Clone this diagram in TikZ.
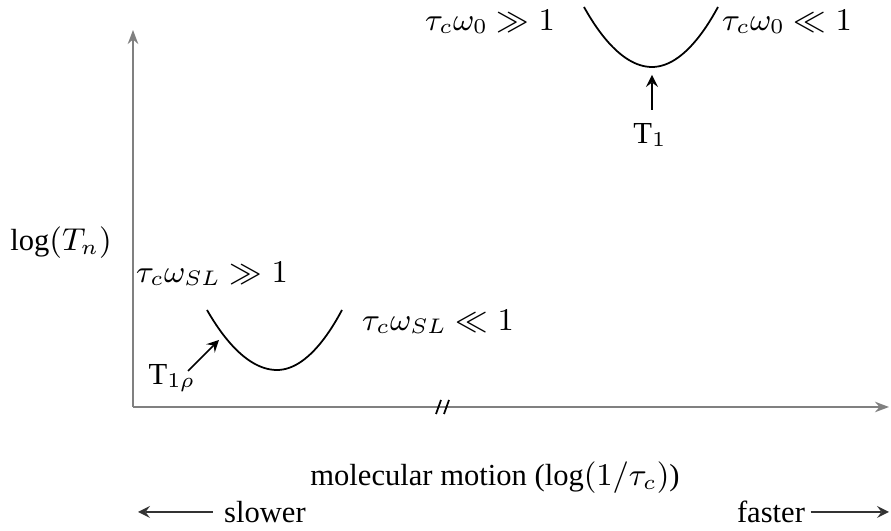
\documentclass[tikz,border=0pt]{standalone}
\usepackage{fontspec}
\setmainfont{Liberation Serif}
\usepackage{amssymb}
\usepackage{xcolor}
\usetikzlibrary{positioning, arrows.meta, calc}

\begin{document}
\begin{tikzpicture}[
    >=stealth,
    axisline/.style={draw=gray, line width=0.5pt, -{Stealth[length=4pt, width=3pt]}},
    curveline/.style={draw=black, line width=0.5pt},
    pointer/.style={->, line width=0.5pt},
    dirarrow/.style={draw=black!80, line width=0.5pt},
    breakmark/.style={draw=black, line width=0.5pt},
    label/.style={inner sep=0pt, font=\fontsize{8.7}{10.4}\selectfont}
]
\useasboundingbox (0,0) rectangle (8.91,5.31);

% Axes
\coordinate (origin) at (1.33,1.24);
\coordinate (ytop) at (1.33,5.01);
\coordinate (xend) at (8.89,1.24);
\draw[axisline] (origin) -- (ytop);
\draw[axisline] (origin) -- (xend);

% Break mark on the x axis
\coordinate (brk) at (4.43,1.24);
\draw[breakmark] ($(brk)+(-0.07,-0.07)$) -- ($(brk)+(-0.02,0.07)$);
\draw[breakmark] ($(brk)+(0.01,-0.07)$) -- ($(brk)+(0.06,0.07)$);

% T1 curve
\coordinate (hiL) at (5.84,5.24);
\coordinate (hiB) at (6.52,4.64);
\coordinate (hiR) at (7.18,5.24);
\draw[curveline] (hiL) parabola bend (hiB) (hiR);

% T1rho curve
\coordinate (loL) at (2.07,2.21);
\coordinate (loB) at (2.77,1.61);
\coordinate (loR) at (3.42,2.21);
\draw[curveline] (loL) parabola bend (loB) (loR);

% Curve labels
\node[label] (hiLeft) at (4.90,5.09) {$\tau_c\omega_0 \gg 1$};
\node[label] (hiRight) at (7.87,5.09) {$\tau_c\omega_0 \ll 1$};
\node[label] (loLeft) at (2.12,2.57) {$\tau_c\omega_{SL} \gg 1$};
\node[label] (loRight) at (4.38,2.09) {$\tau_c\omega_{SL} \ll 1$};

% T1 and T1rho markers
\node[label] (tone) at (6.50,3.96) {T$_1$};
\coordinate (toneTail) at (6.52,4.21);
\coordinate (toneTip) at (6.52,4.56);
\draw[pointer] (toneTail) -- (toneTip);

\node[label] (trho) at (1.72,1.53) {T$_{1\rho}$};
\coordinate (trhoTail) at (1.88,1.60);
\coordinate (trhoTip) at (2.19,1.91);
\draw[pointer] (trhoTail) -- (trhoTip);

% Axis labels
\node[label] (ylab) at (0.61,2.88) {$\log(T_n)$};
\node[label] (xlab) at (4.95,0.53) {molecular motion ($\log(1/\tau_c)$)};

% Direction hints
\node[label] (slow) at (2.65,0.19) {slower};
\node[label] (fast) at (7.71,0.19) {faster};
\coordinate (slowEnd) at (1.38,0.19);
\coordinate (fastEnd) at (8.89,0.19);
\draw[dirarrow, ->] ($(slow.west)+(-0.11,0)$) -- (slowEnd);
\draw[dirarrow, ->] ($(fast.east)+(0.05,0)$) -- (fastEnd);

\end{tikzpicture}
\end{document}
